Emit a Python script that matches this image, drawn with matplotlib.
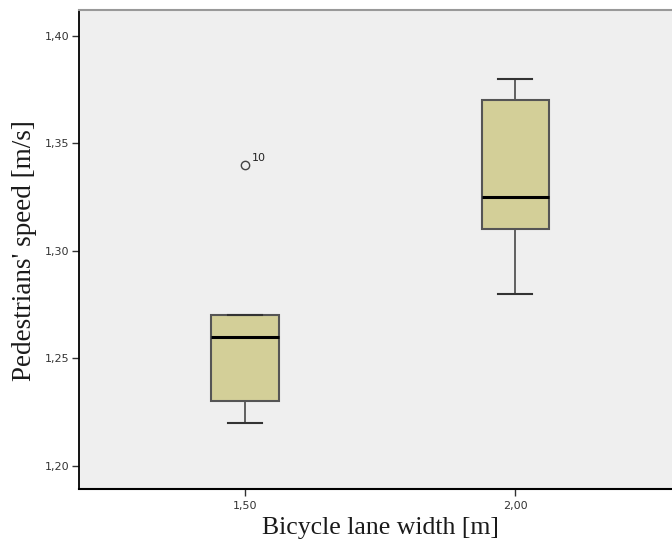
import matplotlib.pyplot as plt

# box plot summary values
groups = ["1,50", "2,00"]
whislo = [1.22, 1.28]
q1 = [1.23, 1.31]
med = [1.26, 1.325]
q3 = [1.27, 1.37]
whishi = [1.27, 1.38]
outliers = [[1.34], []]
outlier_ids = [["10"], []]

yticks = [1.20, 1.25, 1.30, 1.35, 1.40]

stats = []
for i in range(len(groups)):
    stats.append(dict(whislo=whislo[i], q1=q1[i], med=med[i], q3=q3[i],
                      whishi=whishi[i], fliers=outliers[i], label=groups[i]))

fig = plt.figure(figsize=(6.72, 5.47), dpi=100)
ax = fig.add_axes([79 / 672, 58 / 547, 1 - 79 / 672, 479 / 547])
ax.set_facecolor("#efefef")

pos = list(range(len(groups)))
ax.bxp(stats, positions=pos, widths=0.25, patch_artist=True,
       boxprops=dict(facecolor="#d3cf98", edgecolor="#555555", linewidth=1.5),
       medianprops=dict(color="black", linewidth=2.2),
       whiskerprops=dict(color="#555555", linewidth=1.3),
       capprops=dict(color="#333333", linewidth=1.5),
       capwidths=0.125,
       flierprops=dict(marker="o", markerfacecolor="none", markeredgecolor="#444444",
                       markersize=6, markeredgewidth=1.0))

# outlier case labels
for i, (vals, ids) in enumerate(zip(outliers, outlier_ids)):
    for v, t in zip(vals, ids):
        ax.annotate(t, (pos[i], v), xytext=(5, 3), textcoords="offset points",
                    fontsize=8, color="#222222")

ax.set_xlim(-0.615, 1.58)
ax.set_ylim(1.1893, 1.412)
ax.set_yticks(yticks)
ax.set_yticklabels([f"{v:.2f}".replace(".", ",") for v in yticks])
ax.set_xticks(pos)
ax.set_xticklabels(groups)
ax.tick_params(labelsize=8, colors="#333333", length=5, width=1)
ax.tick_params(axis="y", pad=2)
ax.tick_params(axis="x", pad=4)

ax.spines["right"].set_visible(False)
ax.spines["top"].set_color("#999999")
ax.spines["top"].set_linewidth(1.5)
ax.spines["left"].set_linewidth(1.3)
ax.spines["bottom"].set_linewidth(1.5)

ax.set_xlabel("Bicycle lane width [m]", family="Liberation Serif", fontsize=18.5,
              color="#1a1a1a")
ax.set_ylabel("Pedestrians' speed [m/s]", family="Liberation Serif", fontsize=19.5,
              color="#1a1a1a")
ax.xaxis.set_label_coords(0.508, -0.058)
ax.yaxis.set_label_coords(-0.07, 0.497)

fig.savefig("out.png", dpi=100)
